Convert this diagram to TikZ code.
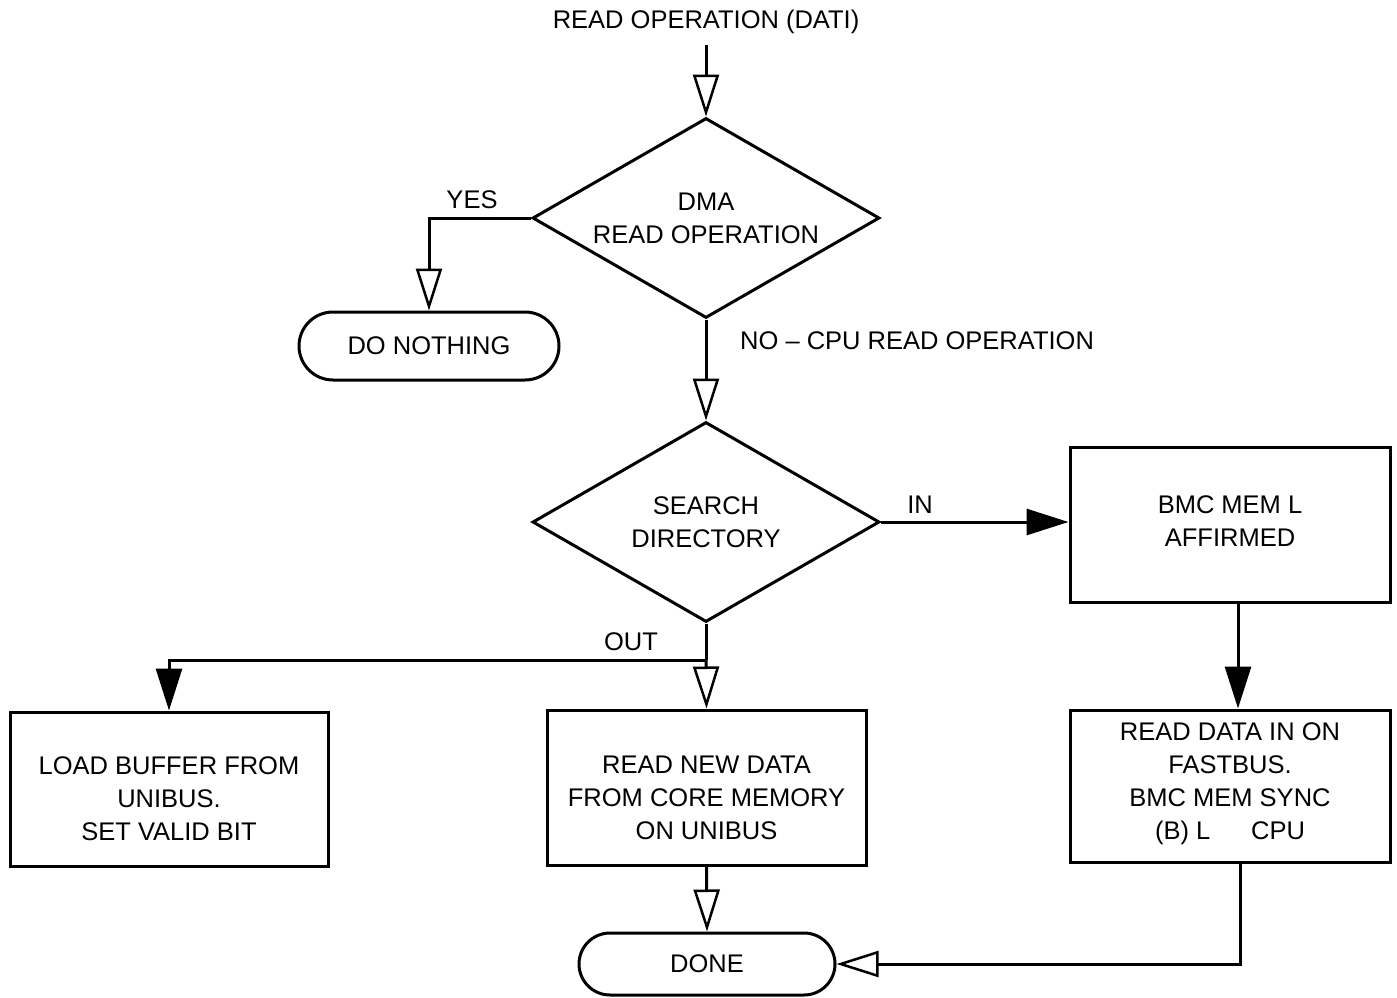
\documentclass[tikz,border=0pt]{standalone}
\usepackage{fontspec}
\setmainfont{Liberation Sans}
\usetikzlibrary{arrows.meta,shapes.geometric,shapes.misc}
\tikzset{
  txt/.style={font=\fontsize{25.5}{33}\selectfont, align=center, inner sep=0pt},
  line/.style={line width=3pt, line join=miter},
  oarr/.style={line, -{Triangle[open,length=42pt,width=26pt,line width=2.5pt]}},
  farr/.style={line, -{Triangle[length=42pt,width=26pt]}},
  dec/.style={draw, line width=3pt, diamond, aspect=1.735, minimum width=347pt, minimum height=200pt, inner sep=0pt, txt},
  procbox/.style={draw, line width=3pt, rectangle, inner sep=0pt},
  term/.style={draw, line width=3pt, rounded rectangle, inner sep=0pt, txt}
}
\begin{document}
\begin{tikzpicture}[x=1pt,y=-1pt]
\useasboundingbox (0,0) rectangle (1397,998);
\node[txt] (title) at (706,22) {READ OPERATION (DATI)};
\node[dec] (d1) at (706,218) {DMA\\READ OPERATION};
\node[term, minimum width=260pt, minimum height=68pt] (dn) at (429,346) {DO NOTHING};
\node[dec] (d2) at (706,522) {SEARCH\\DIRECTORY};
\node[procbox, minimum width=320pt, minimum height=155pt] (bmc) at (1230,524.5) {};
\node[txt] (bmct) at (1230,521) {BMC MEM L\\AFFIRMED};
\node[procbox, minimum width=320pt, minimum height=152pt] (rd) at (1230,786) {};
\node[txt] (rdt) at (1230,783.5) {READ DATA IN ON\\FASTBUS.\\BMC MEM SYNC\\(B) L\hspace{1.6em}CPU};
\node[procbox, minimum width=318pt, minimum height=154pt] (lb) at (169,789) {};
\node[txt] (lbt) at (169,798.5) {LOAD BUFFER FROM\\UNIBUS.\\SET VALID BIT};
\node[procbox, minimum width=319pt, minimum height=155pt] (rn) at (706.5,787.5) {};
\node[txt] (rnt) at (706.5,797.5) {READ NEW DATA\\FROM CORE MEMORY\\ON UNIBUS};
\node[term, minimum width=256pt, minimum height=62pt] (done) at (707,964) {DONE};
\coordinate (j) at (706,660);
% labels
\node[txt] (yes) at (472,200) {YES};
\node[txt, anchor=west] (no) at (740,341) {NO -- CPU READ OPERATION};
\node[txt] (in) at (920,505) {IN};
\node[txt] (out) at (631,642) {OUT};
% connectors
\draw[oarr] (title.south |- 0,45) -- (d1.north);
\draw[oarr] (d1.west) -| (dn.north);
\draw[oarr] (d1.south) -- (d2.north);
\draw[farr] (d2.east) -- (d2.east -| bmc.west);
\draw[farr] ([xshift=8pt]bmc.south) -- ([xshift=8pt]rd.north);
\draw[line] (d2.south) -- (j);
\draw[farr] (j) -| (lb.north);
\draw[oarr] (j) -- (rn.north);
\draw[oarr] (rn.south) -- (done.north);
\draw[oarr] ([xshift=10pt]rd.south) |- (done.east);
\end{tikzpicture}
\end{document}
